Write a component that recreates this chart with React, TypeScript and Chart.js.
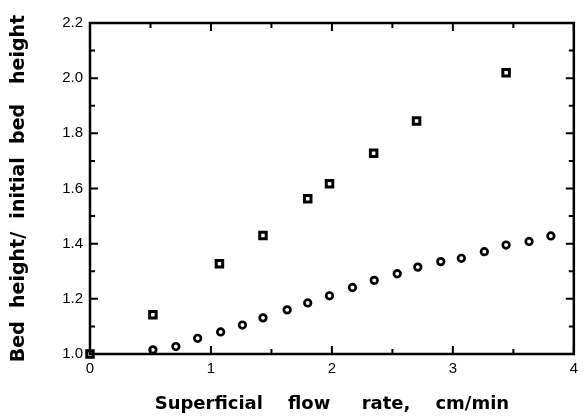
import React, { useEffect, useRef } from "react";
import { Chart, registerables } from "chart.js";

Chart.register(...registerables);

const squareX = [0, 0.52, 1.07, 1.43, 1.8, 1.98, 2.345, 2.7, 3.44];
const squareY = [1.0, 1.142, 1.327, 1.43, 1.5625, 1.617, 1.728, 1.845, 2.02];

const circleX = [0.52, 0.71, 0.89, 1.08, 1.26, 1.43, 1.63, 1.8, 1.98, 2.17, 2.35, 2.54, 2.71, 2.9, 3.07, 3.26, 3.44, 3.63, 3.81];
const circleY = [1.015, 1.027, 1.057, 1.08, 1.105, 1.131, 1.16, 1.185, 1.211, 1.241, 1.267, 1.291, 1.315, 1.335, 1.347, 1.371, 1.395, 1.408, 1.428];

const xMajorTicks = [0, 1, 2, 3, 4];
const xMinorTicks = [0.5, 1.5, 2.5, 3.5];
const yMajorTicks = [1.0, 1.2, 1.4, 1.6, 1.8, 2.0, 2.2];
const yMinorTicks = [1.1, 1.3, 1.5, 1.7, 1.9, 2.1];

const xTitle = "Superficial    flow     rate,    cm/min";
const yTitle = "Bed  height/  initial  bed   height";

const framePlugin = {
  id: "frameTicks",
  afterDatasetsDraw(chart: any) {
    const { ctx, chartArea } = chart;
    const xs = chart.scales.x;
    const ys = chart.scales.y;
    const { left, right, top, bottom } = chartArea;
    ctx.save();
    ctx.strokeStyle = "#000";
    ctx.lineWidth = 2.5;
    ctx.strokeRect(left, top, right - left, bottom - top);
    ctx.lineWidth = 2;
    const drawX = (vals: number[], len: number) => {
      vals.forEach((v) => {
        const px = xs.getPixelForValue(v);
        ctx.beginPath();
        ctx.moveTo(px, bottom);
        ctx.lineTo(px, bottom - len);
        ctx.moveTo(px, top);
        ctx.lineTo(px, top + len);
        ctx.stroke();
      });
    };
    const drawY = (vals: number[], len: number) => {
      vals.forEach((v) => {
        const py = ys.getPixelForValue(v);
        ctx.beginPath();
        ctx.moveTo(left, py);
        ctx.lineTo(left + len, py);
        ctx.moveTo(right, py);
        ctx.lineTo(right - len, py);
        ctx.stroke();
      });
    };
    drawX(xMajorTicks, 8);
    drawX(xMinorTicks, 5);
    drawY(yMajorTicks, 8);
    drawY(yMinorTicks, 5);
    ctx.restore();
  },
};

export default function App() {
  const ref = useRef<HTMLCanvasElement>(null);
  useEffect(() => {
    if (!ref.current) return;
    Chart.defaults.color = "#000";
    const chart = new Chart(ref.current, {
      type: "scatter",
      data: {
        datasets: [
          {
            label: "squares",
            data: squareX.map((x, i) => ({ x, y: squareY[i] })),
            pointStyle: "rect",
            pointRadius: 4.6,
            borderColor: "#000",
            backgroundColor: "#fff",
            borderWidth: 3,
            clip: false,
          },
          {
            label: "circles",
            data: circleX.map((x, i) => ({ x, y: circleY[i] })),
            pointStyle: "circle",
            pointRadius: 3.3,
            borderColor: "#000",
            backgroundColor: "#fff",
            borderWidth: 2.7,
            clip: false,
          },
        ],
      },
      plugins: [framePlugin],
      options: {
        animation: false,
        responsive: false,
        maintainAspectRatio: false,
        layout: { padding: { left: 0, right: 3, top: 23, bottom: 0 } },
        plugins: { legend: { display: false }, tooltip: { enabled: false } },
        scales: {
          x: {
            type: "linear",
            min: 0,
            max: 4,
            grid: { display: false, drawTicks: false },
            border: { display: false },
            ticks: {
              stepSize: 1,
              padding: 6,
              font: { family: "Liberation Sans", size: 15 },
              color: "#000",
            },
            title: {
              display: true,
              text: xTitle,
              font: { family: "DejaVu Sans", size: 18, weight: "bold" },
              color: "#000",
              padding: { top: 0, bottom: 1 },
            },
            afterFit(scale: any) {
              scale.height = 62;
            },
          },
          y: {
            type: "linear",
            min: 1.0,
            max: 2.2,
            grid: { display: false, drawTicks: false },
            border: { display: false },
            ticks: {
              stepSize: 0.2,
              padding: 7,
              font: { family: "Liberation Sans", size: 15 },
              color: "#000",
              callback: (v: any) => Number(v).toFixed(1),
            },
            title: {
              display: true,
              text: yTitle,
              font: { family: "DejaVu Sans", size: 19, weight: "bold" },
              color: "#000",
              padding: { top: 8, bottom: 0 },
            },
            afterFit(scale: any) {
              scale.width = 90;
            },
          },
        },
      },
    } as any);
    return () => chart.destroy();
  }, []);
  return (
    <div style={{ position: "fixed", left: 0, top: 0, width: 584, height: 416, background: "#fff" }}>
      <canvas ref={ref} width={584} height={416} style={{ width: 584, height: 416 }} />
    </div>
  );
}
